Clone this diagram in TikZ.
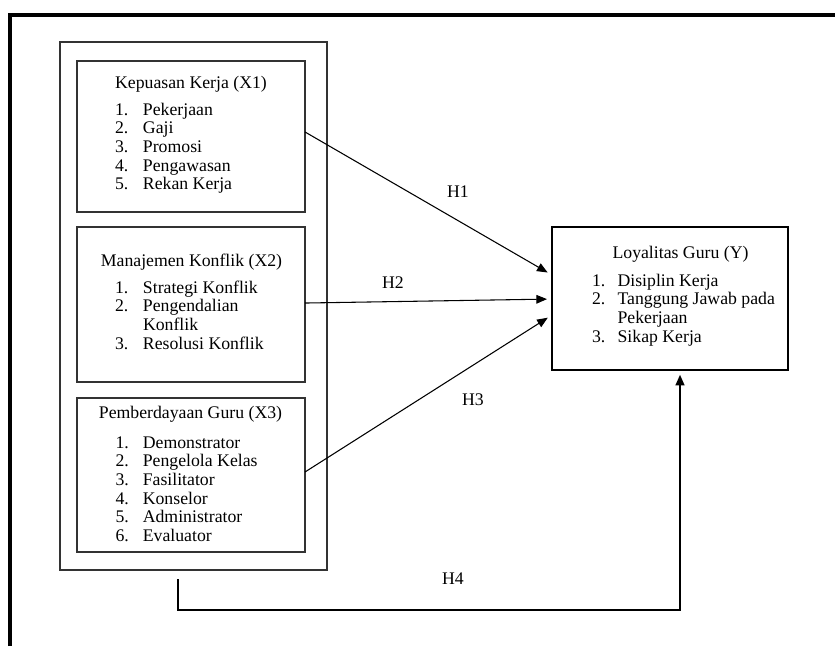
\documentclass[tikz,border=0pt]{standalone}
\usepackage{fontspec}
\setmainfont{Liberation Serif}
\usetikzlibrary{arrows.meta,fit}
\begin{document}
\begin{tikzpicture}[x=0.75pt,y=-0.75pt,
  every node/.style={inner sep=0pt, outer sep=0pt, font=\fontsize{13.3}{14}\selectfont},
  box/.style={draw=black!80, line width=0.8pt, inner sep=0pt},
  ttl/.style={anchor=base},
  lst/.style={anchor=base west},
  arr/.style={draw=black, line width=0.8pt, -{Triangle[length=8pt,width=6.5pt]}, shorten >=3.75pt},
  hfour/.style={draw=black, line width=1.6pt, line join=miter, -{Triangle[length=8pt,width=6.5pt]}, shorten >=3.5pt},
  frame/.style={draw=black, line width=2.9pt, line join=miter}]
\useasboundingbox (0,0) rectangle (835,646);
% page frame
\draw[frame] (9.8,646) -- (9.8,15.3) -- (835,15.3);
% boxes
\node[box, fit={(60,42) (327,570)}] (outer) {};
\node[box, fit={(77,61) (305,212)}] (x1) {};
\node[box, fit={(77,227) (305,382)}] (x2) {};
\node[box, fit={(77,398) (305,552)}] (x3) {};
\node[box, draw=black, fit={(552,227) (788,370)}] (y) {};
% texts
\node[ttl] (x1t) at (191,88) {Kepuasan Kerja (X1)};
\node[lst] (x1l) at (115,115) {\begin{tabular}[t]{@{}p{21pt}@{}l@{}}
1. & Pekerjaan\\ 2. & Gaji\\ 3. & Promosi\\ 4. & Pengawasan\\ 5. & Rekan Kerja\end{tabular}};
\node[ttl] (x2t) at (191.5,266) {Manajemen Konflik (X2)};
\node[lst] (x2l) at (115,293) {\begin{tabular}[t]{@{}p{21pt}@{}l@{}}
1. & Strategi Konflik\\ 2. & Pengendalian\\ & Konflik\\ 3. & Resolusi Konflik\end{tabular}};
\node[ttl] (x3t) at (190.5,418) {Pemberdayaan Guru (X3)};
\node[lst] (x3l) at (115.5,448) {\begin{tabular}[t]{@{}p{20.5pt}@{}l@{}}
1. & Demonstrator\\ 2. & Pengelola Kelas\\ 3. & Fasilitator\\ 4. & Konselor\\ 5. & Administrator\\ 6. & Evaluator\end{tabular}};
\node[ttl] (yt) at (680.5,258) {Loyalitas Guru (Y)};
\node[lst] (yl) at (592,286) {\begin{tabular}[t]{@{}p{19.2pt}@{}l@{}}
1. & Disiplin Kerja\\ 2. & Tanggung Jawab pada\\ & Pekerjaan\\ 3. & Sikap Kerja\end{tabular}};
% connectors
\draw[arr] ([yshift=3.4pt]x1.east) -- ([yshift=17.6pt]y.west);
\draw[arr] ([yshift=1.1pt]x2.east) -- ([yshift=-0.4pt]y.west);
\draw[arr] ([yshift=2.25pt]x3.east) -- ([yshift=-12.4pt]y.west);
\coordinate (h4s) at (178,579);
\coordinate (h4c) at (680,610);
\draw[hfour] (h4s) |- (h4c) -- ([xshift=7.5pt]y.south);
% labels
\node (h1) at (458,192) {H1};
\node (h2) at (393,283) {H2};
\node (h3) at (473,400) {H3};
\node (h4) at (453,579) {H4};
\end{tikzpicture}
\end{document}
